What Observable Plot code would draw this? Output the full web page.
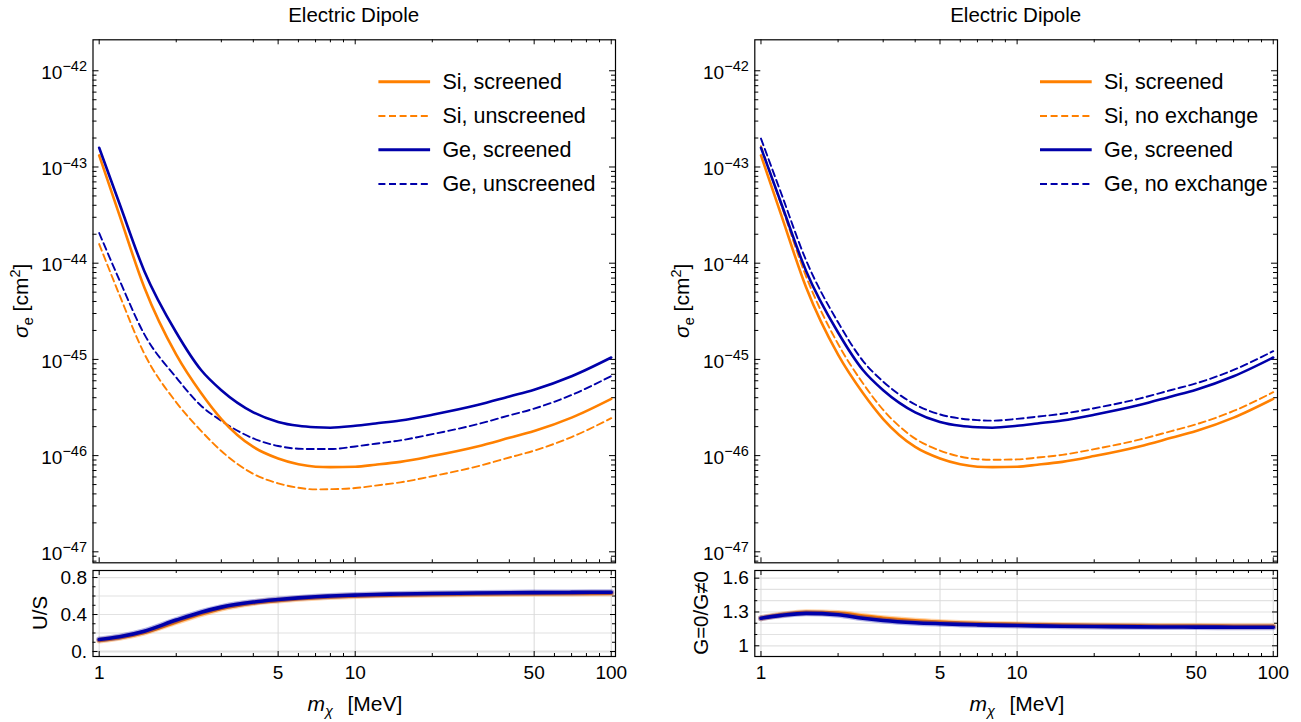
<!DOCTYPE html>
<html><head><meta charset="utf-8">
<script src="https://cdn.jsdelivr.net/npm/d3@7"></script>
<script src="https://cdn.jsdelivr.net/npm/@observablehq/plot@0.6"></script>
<style>
body{margin:0;background:#fff;}
#wrap{position:relative;width:1301px;height:722px;overflow:hidden;background:#fff;font-family:"Liberation Sans",Arial,Helvetica,sans-serif;}
</style></head><body><div id="wrap"></div>
<script>
// ---------------- data ----------------
const masses = [1, 1.2, 1.5, 2, 2.5, 3, 4, 5, 6, 7, 8, 10, 12, 15, 20, 30, 40, 50, 70, 100];
const siScreened   = [1.32e-43, 3.16e-44, 5.62e-45, 1.12e-45, 4.47e-46, 2.40e-46, 1.23e-46, 9.33e-47, 8.13e-47, 7.67e-47, 7.59e-47, 7.67e-47, 8.04e-47, 8.61e-47, 9.89e-47, 1.245e-46, 1.53e-46, 1.80e-46, 2.48e-46, 3.89e-46];
const siUnscreened = [1.58e-44, 4.68e-45, 1.15e-45, 3.58e-46, 1.81e-46, 1.116e-46, 6.46e-47, 5.15e-47, 4.63e-47, 4.46e-47, 4.48e-47, 4.60e-47, 4.88e-47, 5.27e-47, 6.10e-47, 7.74e-47, 9.56e-47, 1.127e-46, 1.56e-46, 2.45e-46];
const geScreened   = [1.585e-43, 4.17e-44, 8.32e-45, 1.905e-45, 7.76e-46, 4.79e-46, 2.82e-46, 2.24e-46, 2.04e-46, 1.97e-46, 1.95e-46, 2.04e-46, 2.16e-46, 2.32e-46, 2.66e-46, 3.35e-46, 4.12e-46, 4.84e-46, 6.68e-46, 1.047e-45];
const geUnscreened = [2.06e-44, 6.67e-45, 1.83e-45, 6.48e-46, 3.30e-46, 2.30e-46, 1.51e-46, 1.26e-46, 1.18e-46, 1.17e-46, 1.17e-46, 1.245e-46, 1.33e-46, 1.44e-46, 1.67e-46, 2.12e-46, 2.62e-46, 3.08e-46, 4.27e-46, 6.71e-46];
const siNoExchange = [1.643e-43, 4.03e-44, 7.29e-45, 1.445e-45, 5.65e-46, 2.99e-46, 1.503e-46, 1.129e-46, 9.77e-47, 9.18e-47, 9.06e-47, 9.13e-47, 9.54e-47, 1.019e-46, 1.167e-46, 1.465e-46, 1.798e-46, 2.115e-46, 2.91e-46, 4.56e-46];
const geNoExchange = [1.973e-43, 5.30e-44, 1.072e-44, 2.43e-45, 9.66e-46, 5.87e-46, 3.40e-46, 2.68e-46, 2.43e-46, 2.34e-46, 2.31e-46, 2.41e-46, 2.54e-46, 2.72e-46, 3.11e-46, 3.91e-46, 4.81e-46, 5.64e-46, 7.78e-46, 1.219e-45];
const ratioUS_Si = [0.12, 0.148, 0.205, 0.32, 0.405, 0.465, 0.525, 0.552, 0.57, 0.582, 0.59, 0.60, 0.607, 0.612, 0.617, 0.622, 0.625, 0.626, 0.628, 0.63];
const ratioUS_Ge = [0.13, 0.16, 0.22, 0.34, 0.425, 0.48, 0.535, 0.562, 0.58, 0.592, 0.60, 0.61, 0.617, 0.622, 0.627, 0.632, 0.635, 0.637, 0.639, 0.641];
const ratioG_Si  = [1.245, 1.275, 1.298, 1.29, 1.265, 1.245, 1.222, 1.21, 1.202, 1.197, 1.194, 1.19, 1.186, 1.183, 1.18, 1.177, 1.175, 1.175, 1.174, 1.173];
const ratioG_Ge  = [1.245, 1.27, 1.288, 1.275, 1.245, 1.225, 1.205, 1.196, 1.19, 1.186, 1.183, 1.18, 1.177, 1.174, 1.171, 1.168, 1.167, 1.166, 1.165, 1.164];

// ticks
const xMajor = [1, 5, 10, 50, 100];
const xMajorLabels = ["1", "5", "10", "50", "100"];
const xMinor = [2, 3, 4, 6, 7, 8, 9, 20, 30, 40, 60, 70, 80, 90];
const yTopMajor = [1e-47, 1e-46, 1e-45, 1e-44, 1e-43, 1e-42];
const yTopLabels = ["10^−47", "10^−46", "10^−45", "10^−44", "10^−43", "10^−42"];
const usTicks = [0, 0.4, 0.8];
const usLabels = ["0.", "0.4", "0.8"];
const usMinor = [0.1, 0.2, 0.3, 0.5, 0.6, 0.7];
const usGrid = [0, 0.2, 0.4, 0.6, 0.8];
const gTicks = [1, 1.3, 1.6];
const gLabels = ["1", "1.3", "1.6"];
const gMinor = [1.1, 1.2, 1.4, 1.5];
const gGrid = [1, 1.1, 1.2, 1.3, 1.4, 1.5, 1.6];

const legendLeft = ["Si, screened", "Si, unscreened", "Ge, screened", "Ge, unscreened"];
const legendRight = ["Si, screened", "Si, no exchange", "Ge, screened", "Ge, no exchange"];

// ---------------- layout / style ----------------
const FONT = '"Liberation Sans", Arial, Helvetica, sans-serif';
const ORANGE = "#ff8000", BLUE = "#0000aa";
const DASH = "7,4";
const wrap = document.getElementById("wrap");
const xDomain = [0.946, 103.9];
const yTopDomain = [7.69e-48, 2.099e-42];
const topH = 566, botH = 156;
const yTopMinor = [];
for (let k = -48; k <= -43; k++) for (let j = 2; j <= 9; j++) { const v = j * Math.pow(10, k); if (v > yTopDomain[0] && v < yTopDomain[1]) yTopMinor.push(v); }

const rows = ys => masses.map((m, i) => ({m, v: ys[i]}));
const labelRows = (ticks, labels) => ticks.map((t, i) => ({t, s: labels[i]}));

function place(svg, left, top) {
  svg.style.position = "absolute"; svg.style.left = left + "px"; svg.style.top = top + "px";
  wrap.appendChild(svg);
}

function edgeTicks(fw, fh, xMaj, xMin, yMaj, yMin, xl, xs, yl, ys) {
  const t = {stroke: "#000", strokeWidth: 1};
  return [
    Plot.ruleX(xMaj, {x: d => d, insetTop: fh - xl, ...t}),
    Plot.ruleX(xMaj, {x: d => d, insetBottom: fh - xl, ...t}),
    Plot.ruleX(xMin, {x: d => d, insetTop: fh - xs, ...t}),
    Plot.ruleX(xMin, {x: d => d, insetBottom: fh - xs, ...t}),
    Plot.ruleY(yMaj, {y: d => d, insetRight: fw - yl, ...t}),
    Plot.ruleY(yMaj, {y: d => d, insetLeft: fw - yl, ...t}),
    Plot.ruleY(yMin, {y: d => d, insetRight: fw - ys, ...t}),
    Plot.ruleY(yMin, {y: d => d, insetLeft: fw - ys, ...t})
  ];
}

// y tick labels drawn with the text mark, anchored to the frame's left edge
function yLabels(ticks, labels, dy) {
  return Plot.text(labelRows(ticks, labels), {
    y: "t", text: "s", frameAnchor: "left", textAnchor: "end", dx: -6, dy,
    fontSize: 19, fill: "#000", className: "ylab"
  });
}

function superscriptify(svg) {
  svg.querySelectorAll('.ylab text').forEach(t => {
    const s = t.textContent; const m = s.match(/^10\^(.*)$/);
    if (!m) return;
    t.textContent = "";
    const NS = "http://www.w3.org/2000/svg";
    const a = document.createElementNS(NS, "tspan"); a.textContent = "10";
    const b = document.createElementNS(NS, "tspan"); b.textContent = m[1];
    b.setAttribute("dy", "-0.52em"); b.setAttribute("font-size", "14.5");
    t.append(a, b);
  });
}

function topPanel(left, W, mL, mR, s1, s2, s3, s4) {
  const mT = 39.3, mB = 3.7;
  const fw = W - mL - mR, fh = topH - mT - mB;
  const svg = Plot.plot({
    width: W, height: topH, marginLeft: mL, marginRight: mR, marginTop: mT, marginBottom: mB,
    style: {fontFamily: FONT, fontSize: "19px", color: "#000", background: "transparent", overflow: "visible"},
    x: {type: "log", domain: xDomain, axis: null},
    y: {type: "log", domain: yTopDomain, axis: null},
    marks: [
      yLabels(yTopMajor, yTopLabels, 2),
      ...edgeTicks(fw, fh, xMajor, xMinor, yTopMajor, yTopMinor, 5, 3, 6, 4),
      Plot.line(rows(s2), {x: "m", y: "v", stroke: ORANGE, strokeWidth: 1.9, strokeDasharray: DASH, curve: "monotone-x"}),
      Plot.line(rows(s4), {x: "m", y: "v", stroke: BLUE, strokeWidth: 1.9, strokeDasharray: DASH, curve: "monotone-x"}),
      Plot.line(rows(s1), {x: "m", y: "v", stroke: ORANGE, strokeWidth: 2.6, curve: "monotone-x"}),
      Plot.line(rows(s3), {x: "m", y: "v", stroke: BLUE, strokeWidth: 2.6, curve: "monotone-x"}),
      Plot.frame({stroke: "#000", strokeWidth: 1.2})
    ]
  });
  superscriptify(svg);
  place(svg, left, 0);
}

function bottomPanel(left, W, mL, mR, yDomain, ticks, labels, minor, grid, rSi, rGe) {
  const mT = 4, mB = 66;
  const fw = W - mL - mR, fh = botH - mT - mB;
  const svg = Plot.plot({
    width: W, height: botH, marginLeft: mL, marginRight: mR, marginTop: mT, marginBottom: mB,
    style: {fontFamily: FONT, fontSize: "19px", color: "#000", background: "transparent", overflow: "visible"},
    x: {type: "log", domain: xDomain, axis: null},
    y: {type: "linear", domain: yDomain, axis: null},
    marks: [
      Plot.ruleY(grid, {y: d => d, stroke: "#e2e2e2", strokeWidth: d => d === 0 ? 2.2 : 1.2}),
      Plot.ruleX(xMajor, {x: d => d, stroke: "#dadada", strokeWidth: 1}),
      yLabels(ticks, labels, 0),
      Plot.text(labelRows(xMajor, xMajorLabels), {x: "t", text: "s", frameAnchor: "bottom", lineAnchor: "top", dy: 9, fontSize: 19, fill: "#000"}),
      ...edgeTicks(fw, fh, xMajor, xMinor, ticks, minor, 5, 3, 5, 3),
      Plot.line(rows(rSi), {x: "m", y: "v", stroke: ORANGE, strokeWidth: 6, strokeOpacity: 0.35, curve: "monotone-x"}),
      Plot.line(rows(rSi), {x: "m", y: "v", stroke: ORANGE, strokeWidth: 3.6, curve: "monotone-x"}),
      Plot.line(rows(rGe), {x: "m", y: "v", stroke: BLUE, strokeWidth: 6, strokeOpacity: 0.3, curve: "monotone-x"}),
      Plot.line(rows(rGe), {x: "m", y: "v", stroke: BLUE, strokeWidth: 3.6, curve: "monotone-x"}),
      Plot.frame({stroke: "#000", strokeWidth: 1.2})
    ]
  });
  place(svg, left, topH);
}

topPanel(0, 650, 92.5, 35, siScreened, siUnscreened, geScreened, geUnscreened);
topPanel(650, 651, 104.3, 24, siScreened, siNoExchange, geScreened, geNoExchange);
bottomPanel(0, 650, 92.5, 35, [-0.054, 0.876], usTicks, usLabels, usMinor, usGrid, ratioUS_Si, ratioUS_Ge);
bottomPanel(650, 651, 104.3, 24, [0.905, 1.668], gTicks, gLabels, gMinor, gGrid, ratioG_Si, ratioG_Ge);

// ---------------- annotation overlay (titles, axis labels, legends) ----------------
const ov = d3.create("svg").attr("width", 1301).attr("height", 722)
  .style("position", "absolute").style("left", "0px").style("top", "0px")
  .style("font-family", FONT).style("pointer-events", "none");
const titleX = [353.7, 1015.7];
titleX.forEach(x => ov.append("text").attr("x", x).attr("y", 22).attr("text-anchor", "middle")
  .attr("font-size", 20.5).text("Electric Dipole"));

function sigmaLabel(x) {
  const t = ov.append("text").attr("transform", `translate(${x},300.8) rotate(-90)`).attr("text-anchor", "middle").attr("font-size", 21);
  t.append("tspan").attr("font-style", "italic").text("σ");
  t.append("tspan").attr("dy", 5).attr("font-size", 14.5).text("e");
  t.append("tspan").attr("dy", -5).text("\u00a0[cm");
  t.append("tspan").attr("dy", -8).attr("font-size", 14.5).text("2");
  t.append("tspan").attr("dy", 8).text("]");
}
sigmaLabel(28); sigmaLabel(688.5);
ov.append("text").attr("transform", "translate(47,613) rotate(-90)").attr("text-anchor", "middle").attr("font-size", 20.5).text("U/S");
ov.append("text").attr("transform", "translate(708,613) rotate(-90)").attr("text-anchor", "middle").attr("font-size", 20.5).text("G=0/G≠0");

[355, 1017].forEach(x => {
  const t = ov.append("text").attr("x", x).attr("y", 711).attr("text-anchor", "middle").attr("font-size", 21);
  t.append("tspan").attr("font-style", "italic").text("m");
  t.append("tspan").attr("dy", 5).attr("font-size", 14.5).attr("font-style", "italic").text("χ");
  t.append("tspan").attr("dy", -5).attr("dx", 4).text("\u2002[MeV]");
});

const legRowsY = [81.7, 116, 149.8, 184];
const legStyles = [{c: ORANGE, d: null}, {c: ORANGE, d: "7,3.6"}, {c: BLUE, d: null}, {c: BLUE, d: "7,3.6"}];
function legend(x0, labels) {
  labels.forEach((lab, i) => {
    const y = legRowsY[i], st = legStyles[i];
    const ln = ov.append("line").attr("x1", x0).attr("x2", x0 + 51.7).attr("y1", y).attr("y2", y)
      .attr("stroke", st.c).attr("stroke-width", st.d ? 2 : 3);
    if (st.d) ln.attr("stroke-dasharray", st.d);
    ov.append("text").attr("x", x0 + 64).attr("y", y + 7.3).attr("font-size", 21.5).text(lab);
  });
}
legend(378.4, legendLeft);
legend(1040, legendRight);
wrap.appendChild(ov.node());
</script></body></html>
